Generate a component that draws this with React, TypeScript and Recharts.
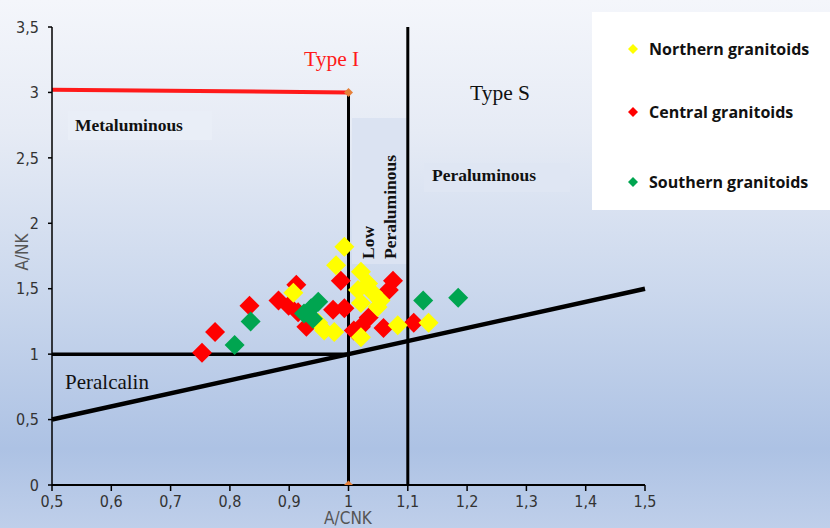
import React from "react";
import { ScatterChart, Scatter, XAxis, YAxis, ReferenceLine } from "recharts";

const xTicks = [0.5, 0.6, 0.7, 0.8, 0.9, 1, 1.1, 1.2, 1.3, 1.4, 1.5];
const yTicks = [0, 0.5, 1, 1.5, 2, 2.5, 3, 3.5];

const northern = [
  { x: 0.993, y: 1.82 }, { x: 0.979, y: 1.68 }, { x: 1.021, y: 1.63 }, { x: 1.033, y: 1.54 },
  { x: 1.016, y: 1.49 }, { x: 1.041, y: 1.47 }, { x: 1.049, y: 1.36 }, { x: 1.021, y: 1.39 },
  { x: 1.083, y: 1.22 }, { x: 1.135, y: 1.24 }, { x: 0.959, y: 1.18 }, { x: 0.976, y: 1.17 },
  { x: 0.907, y: 1.47 }, { x: 1.021, y: 1.13 }, { x: 0.949, y: 1.24 }, { x: 1.054, y: 1.41 },
];
const central = [
  { x: 0.753, y: 1.01 }, { x: 0.775, y: 1.17 }, { x: 0.833, y: 1.37 }, { x: 0.912, y: 1.53 },
  { x: 0.882, y: 1.41 }, { x: 0.899, y: 1.37 }, { x: 0.929, y: 1.21 }, { x: 0.987, y: 1.56 },
  { x: 0.974, y: 1.34 }, { x: 0.993, y: 1.35 }, { x: 1.009, y: 1.18 }, { x: 1.034, y: 1.28 },
  { x: 1.021, y: 1.21 }, { x: 1.059, y: 1.2 }, { x: 1.075, y: 1.56 }, { x: 1.068, y: 1.49 },
  { x: 1.11, y: 1.24 }, { x: 0.915, y: 1.32 },
];
const southern = [
  { x: 0.808, y: 1.07 }, { x: 0.835, y: 1.25 }, { x: 0.937, y: 1.35 }, { x: 0.925, y: 1.31 },
  { x: 0.949, y: 1.4 }, { x: 0.94, y: 1.27 }, { x: 1.126, y: 1.41 }, { x: 1.185, y: 1.43 },
];
const corners = [{ x: 1, y: 3 }, { x: 1, y: 0 }];

const legendItems = [
  { name: "Northern granitoids", color: "#ffff00" },
  { name: "Central granitoids", color: "#ff0000" },
  { name: "Southern granitoids", color: "#00a550" },
];

const diamond = (r: number, color: string) => (p: any) => {
  const { cx, cy } = p;
  return <path d={`M${cx},${cy - r}L${cx + r},${cy}L${cx},${cy + r}L${cx - r},${cy}Z`} fill={color} />;
};

const narrow = "'DejaVu Sans Condensed','Liberation Sans',sans-serif";
const tickStyle = { fill: "#333", fontSize: 16, fontFamily: narrow };
const serif = "'Liberation Serif','DejaVu Serif',serif";
const fmt = (v: number) => String(v).replace(".", ",");

export default function App() {
  return (
    <div style={{ position: "absolute", left: 0, top: 0, width: 830, height: 528, overflow: "hidden",
      background: "linear-gradient(180deg,#f4f6fb 0%,#e6ebf5 25%,#cbd8ed 55%,#adc2e4 85%,#bfcfea 100%)" }}>
      <div style={{ position: "absolute", left: 68, top: 111, width: 144, height: 29, background: "#e9eef7" }} />
      <div style={{ position: "absolute", left: 424, top: 163, width: 146, height: 29, background: "#dfe6f3" }} />
      <div style={{ position: "absolute", left: 352, top: 118, width: 56, height: 146, background: "#dbe3f2" }} />
      <ScatterChart width={830} height={528} margin={{ top: 27, right: 185, bottom: 13, left: 11 }} style={{ position: "absolute", left: 0, top: 0 }}>
        <XAxis type="number" dataKey="x" domain={[0.5, 1.5]} ticks={xTicks} allowDataOverflow
          tickFormatter={fmt} tick={tickStyle} tickMargin={5}
          axisLine={{ stroke: "#000", strokeWidth: 2 }} tickLine={{ stroke: "#000", strokeWidth: 1.5 }} height={30} />
        <YAxis type="number" dataKey="y" domain={[0, 3.5]} ticks={yTicks} allowDataOverflow
          tickFormatter={fmt} tick={tickStyle} tickMargin={9} tickSize={4}
          axisLine={{ stroke: "#000", strokeWidth: 1.5 }} tickLine={{ stroke: "#000", strokeWidth: 1.5 }} width={41} />
        <ReferenceLine segment={[{ x: 0.5, y: 3.02 }, { x: 1, y: 3 }]} stroke="#ff1a1a" strokeWidth={4} />
        <ReferenceLine segment={[{ x: 1, y: 0 }, { x: 1, y: 3 }]} stroke="#000" strokeWidth={3} />
        <ReferenceLine segment={[{ x: 1.1, y: 0 }, { x: 1.1, y: 3.5 }]} stroke="#000" strokeWidth={3} />
        <ReferenceLine segment={[{ x: 0.5, y: 1 }, { x: 1, y: 1 }]} stroke="#000" strokeWidth={3.5} />
        <ReferenceLine segment={[{ x: 0.5, y: 0.5 }, { x: 1.5, y: 1.5 }]} stroke="#000" strokeWidth={4.5} />
        <Scatter data={corners} shape={diamond(4.5, "#e5803a")} isAnimationActive={false} />
        <Scatter data={central} shape={diamond(10, "#ff0000")} isAnimationActive={false} />
        <Scatter data={northern} shape={diamond(10, "#ffff00")} isAnimationActive={false} />
        <Scatter data={southern} shape={diamond(10, "#00a550")} isAnimationActive={false} />
      </ScatterChart>
      <div style={{ position: "absolute", left: 304, top: 49, fontFamily: serif, fontSize: 21.5, color: "#ff1a1a", lineHeight: 1 }}>Type I</div>
      <div style={{ position: "absolute", left: 470, top: 83, fontFamily: serif, fontSize: 21.5, color: "#111", lineHeight: 1 }}>Type S</div>
      <div style={{ position: "absolute", left: 75, top: 117, fontFamily: serif, fontSize: 17.5, fontWeight: 700, color: "#111", lineHeight: 1 }}>Metaluminous</div>
      <div style={{ position: "absolute", left: 432, top: 167, fontFamily: serif, fontSize: 17.5, fontWeight: 700, color: "#111", lineHeight: 1 }}>Peraluminous</div>
      <div style={{ position: "absolute", left: 357, top: 259, transform: "rotate(-90deg)", transformOrigin: "left top", fontFamily: serif, fontSize: 17.5, fontWeight: 700, color: "#111", lineHeight: "22px", whiteSpace: "nowrap" }}>Low<br />Peraluminous</div>
      <div style={{ position: "absolute", left: 65, top: 372, fontFamily: serif, fontSize: 21, color: "#111", lineHeight: 1 }}>Peralcalin</div>
      <div style={{ position: "absolute", left: 22, top: 252, transform: "translate(-50%,-50%) rotate(-90deg)", fontFamily: narrow, fontSize: 17, color: "#555", whiteSpace: "nowrap" }}>A/NK</div>
      <div style={{ position: "absolute", left: 348, top: 518, transform: "translate(-50%,-50%)", fontFamily: narrow, fontSize: 17, color: "#555", whiteSpace: "nowrap" }}>A/CNK</div>
      <div style={{ position: "absolute", left: 592, top: 12, width: 238, height: 198, background: "#fff" }}>
        {legendItems.map((it, i) => (
          <div key={it.name} style={{ position: "absolute", left: 36, top: [37, 100, 170][i] - 12, height: 24, display: "flex", alignItems: "center", fontFamily: "'Open Sans','Liberation Sans',sans-serif", fontWeight: 700, fontSize: 16, color: "#111", whiteSpace: "nowrap" }}>
            <svg width={10} height={10} style={{ marginRight: 11 }}><path d="M5,0L10,5L5,10L0,5Z" fill={it.color} /></svg>
            {it.name}
          </div>
        ))}
      </div>
    </div>
  );
}
